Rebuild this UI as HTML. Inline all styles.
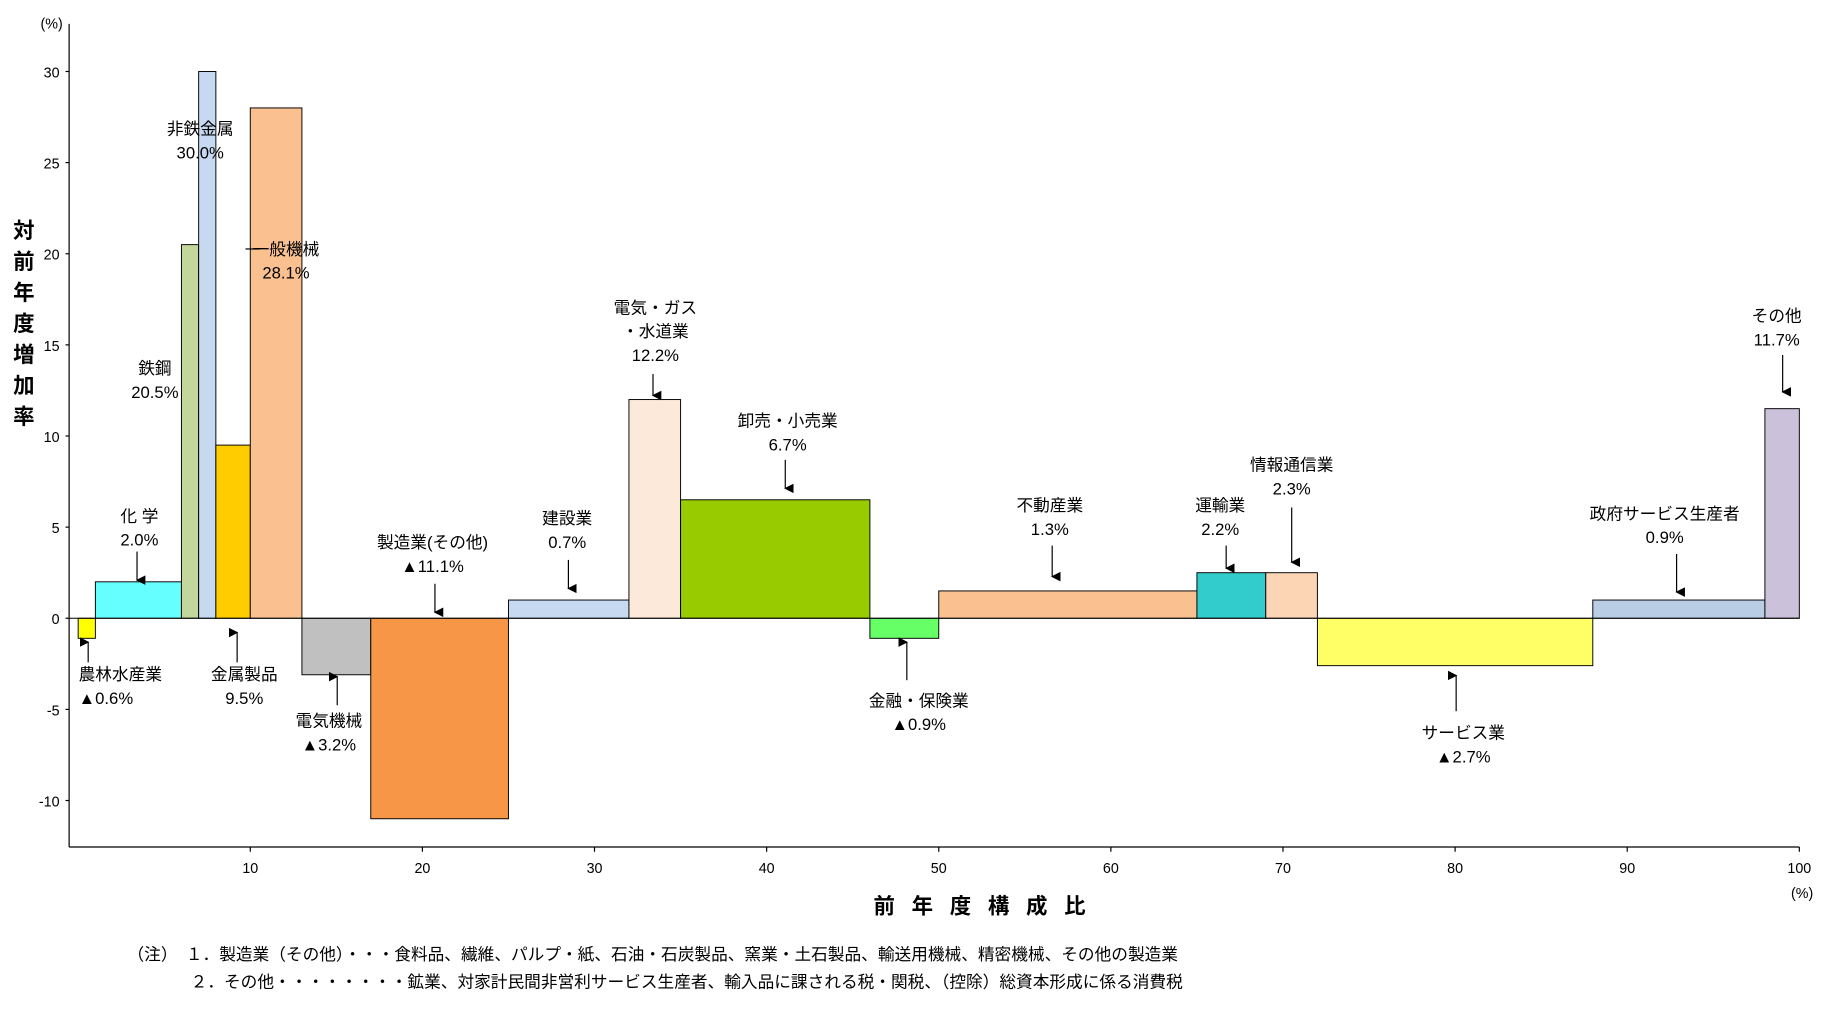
<!DOCTYPE html>
<html><head><meta charset="utf-8"><style>
html,body{margin:0;padding:0;background:#fff;}
svg{display:block;font-family:"Liberation Sans","Noto Sans CJK JP",sans-serif;}
</style></head><body>
<svg id="chart" width="1847" height="1009" viewBox="0 0 1550 847" preserveAspectRatio="none" xmlns="http://www.w3.org/2000/svg">
<defs><marker id="ah" markerWidth="8" markerHeight="8" refX="4" refY="7" orient="auto-start-reverse" markerUnits="userSpaceOnUse"><path d="M0,0 L4,8 L8,0 Z" fill="#000" transform="rotate(0)"/></marker></defs>
<g id="bars"></g><g id="axes"></g><g id="labels"></g>
<text x="34" y="24" font-size="12">(%)</text>
<text x="20" y="200" font-size="18" font-weight="bold" text-anchor="middle"><tspan x="20" dy="0">対</tspan><tspan x="20" dy="26">前</tspan><tspan x="20" dy="26">年</tspan><tspan x="20" dy="26">度</tspan><tspan x="20" dy="26">増</tspan><tspan x="20" dy="26">加</tspan><tspan x="20" dy="26">率</tspan></text>
<text x="829" y="767" font-size="18" font-weight="bold" text-anchor="middle" letter-spacing="14">前年度構成比</text>
<text x="1503" y="754" font-size="12">(%)</text>
<text x="107" y="806" font-size="14">（注）　１．製造業（その他）・・・食料品、繊維、パルプ・紙、石油・石炭製品、窯業・土石製品、輸送用機械、精密機械、その他の製造業</text>
<text x="160" y="829" font-size="14">２．その他・・・・・・・・鉱業、対家計民間非営利サービス生産者、輸入品に課される税・関税、（控除）総資本形成に係る消費税</text>
</svg>
<script>
const categories=["農林水産業","化学","鉄鋼","非鉄金属","金属製品","一般機械","電気機械","製造業(その他)","建設業","電気・ガス・水道業","卸売・小売業","金融・保険業","不動産業","運輸業","情報通信業","サービス業","政府サービス生産者","その他"];
const shares=[1,5,1,1,2,3,4,8,7,3,11,4,15,4,3,16,10,2];
const growth=[-1.1,2.0,20.5,30.0,9.5,28.0,-3.1,-11.0,1.0,12.0,6.5,-1.1,1.5,2.5,2.5,-2.6,1.0,11.5];
const colors=["#ffff00","#66ffff","#c3d69b","#c6d9f1","#ffcc00","#fac090","#c0c0c0","#f79646","#c6d9f1","#fde9d9","#99cc00","#66ff66","#fac090","#33cccc","#fcd5b4","#ffff66","#b9cde5","#ccc1da"];
const yTicks=[-10,-5,0,5,10,15,20,25,30];
const xTicks=[10,20,30,40,50,60,70,80,90,100];
// labels: [line1, line2, line3, cx, y-top, arrowX, arrowFrom, arrowTo]
const labelText=[["農林水産業","▲0.6%"],["化 学","2.0%"],["鉄鋼","20.5%"],["非鉄金属","30.0%"],["金属製品","9.5%"],["一般機械","28.1%"],["電気機械","▲3.2%"],["製造業(その他)","▲11.1%"],["建設業","0.7%"],["電気・ガス","・水道業","12.2%"],["卸売・小売業","6.7%"],["金融・保険業","▲0.9%"],["不動産業","1.3%"],["運輸業","2.2%"],["情報通信業","2.3%"],["サービス業","▲2.7%"],["政府サービス生産者","0.9%"],["その他","11.7%"]];
const NS="http://www.w3.org/2000/svg";
const X=v=>65.6+v*14.444, Y=v=>519-v*15.3;
function mk(t,a,p){const e=document.createElementNS(NS,t);for(const k in a)e.setAttribute(k,a[k]);p.appendChild(e);return e;}
const gb=document.getElementById('bars'),ga=document.getElementById('axes'),gl=document.getElementById('labels');
let cum=0;
categories.forEach((c,i)=>{
 const x0=X(cum),x1=X(cum+shares[i]);cum+=shares[i];
 const y0=Y(Math.max(0,growth[i])),y1=Y(Math.min(0,growth[i]));
 const r=mk('rect',{x:x0,y:y0,width:x1-x0,height:y1-y0,fill:colors[i],stroke:'#000','stroke-width':0.8},gb);
 
 
});
mk('line',{x1:58,y1:20,x2:58,y2:711,stroke:'#000'},ga);
mk('line',{x1:58,y1:711,x2:1510,y2:711,stroke:'#000'},ga);
mk('line',{x1:58,y1:519,x2:1510,y2:519,stroke:'#000','stroke-width':0.8},ga);
yTicks.forEach(v=>{mk('line',{x1:55,y1:Y(v),x2:58,y2:Y(v),stroke:'#000'},ga);
 const t=mk('text',{x:50,y:Y(v)+5,'font-size':12,'text-anchor':'end'},ga);t.textContent=v;
 
 });
xTicks.forEach(v=>{mk('line',{x1:X(v),y1:711,x2:X(v),y2:715,stroke:'#000'},ga);
 const t=mk('text',{x:X(v),y:733,'font-size':12,'text-anchor':'middle'},ga);t.textContent=v;
 
 });
const lp=[[105,567,74,556,539],[117,434,115,463,487],[130,310],[168,109],[205,567,199,556,531],[240,210],[276,606,283,592,568],[363,456,365,490,514],[476,436,477,470,494],[550,259,548,314,332],[661,354,659,386,410],[771,589,761,571,539],[881,425,883,458,484],[1024,425,1029,458,477],[1084,391,1084,426,472],[1228,616,1222,597,567],[1397,432,1407,465,497],[1491,266,1496,298,329]];
labelText.forEach((ls,i)=>{
 const p=lp[i];
 const t=mk('text',{'font-size':14,'text-anchor':i===0?'start':'middle',y:p[1]+4},gl);
 
 
 ls.forEach((s,j)=>{const sp=mk('tspan',{x:i===0?66:p[0],dy:j?20:0},t);sp.textContent=s;});
 if(p.length>2){mk('line',{x1:p[2],y1:p[3],x2:p[2],y2:p[4],stroke:'#000','marker-end':'url(#ah)'},gl);}
});
mk('line',{x1:206,y1:209,x2:218,y2:209,stroke:'#000'},gl);
</script>
</body></html>
